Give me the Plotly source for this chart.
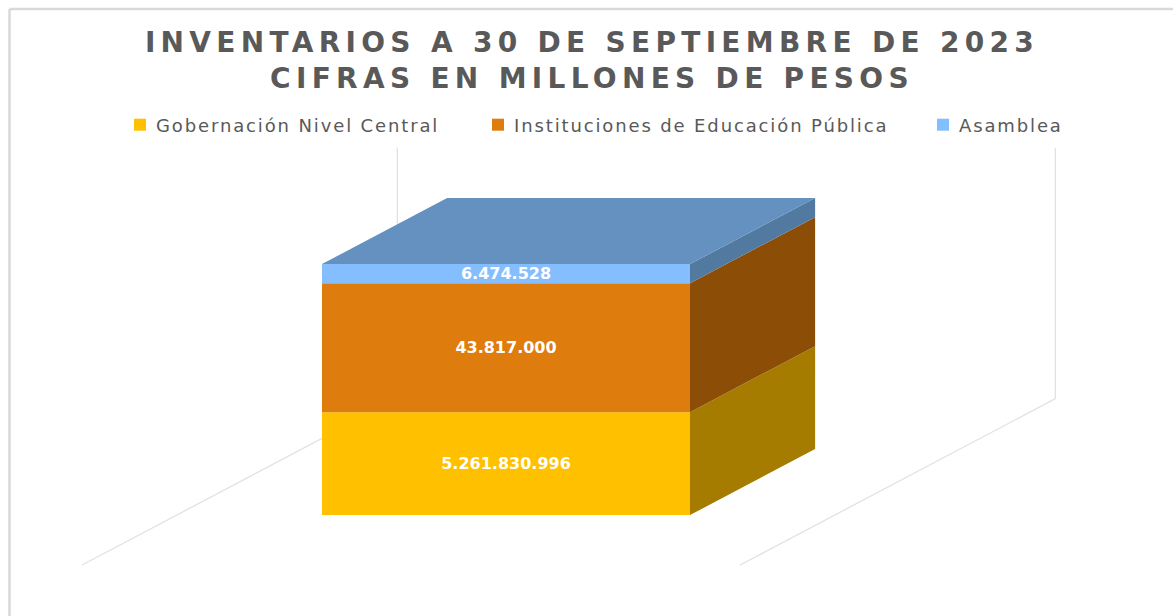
import plotly.graph_objects as go

series_names = ["Gobernación Nivel Central", "Instituciones de Educación Pública", "Asamblea"]
series_values = [5261830996, 43817000, 6474528]
# share of the stack height as drawn in the picture (the source stack is not to scale)
drawn_share = [41.0, 51.4, 7.6]
front_colors = ["#FFC000", "#DE7C0D", "#85BEFF"]
side_colors = ["#A67C00", "#8C4D06", "#527AA0"]
top_color = "#6491BF"
wall_color = "#E2E2E2"
title_lines = ["INVENTARIOS A 30 DE SEPTIEMBRE DE 2023", "CIFRAS EN MILLONES DE PESOS"]
legend_ids = ["legend", "legend2", "legend3"]
legend_left_px = [120, 478, 923]

W, H = 1173, 616
# axis scale
BAR_W = 1.0
X_RANGE = [-1.375, 1.8125]
Y_RANGE = [-40.2, 205.2]
DEPTH_X = 0.34
DEPTH_Y = 26.3
# floor/wall frame
FLOOR_Y = -19.9
FLOOR_LEFT = -1.152
FLOOR_RIGHT = 0.636
FLOOR_K = 2.52
WALL_TOP = 100

def label(v):
    return f"{v:,}".replace(",", ".")

fig = go.Figure()
base = 0
bx0, bx1 = -BAR_W / 2, BAR_W / 2
for name, value, share, fc, sc, lid in zip(series_names, series_values, drawn_share, front_colors, side_colors, legend_ids):
    fig.add_trace(go.Bar(
        x=[0], y=[share], base=[base], width=[BAR_W], name=name, legend=lid,
        marker=dict(color=fc, line=dict(width=0)),
        text=[label(value)], textposition="inside", insidetextanchor="middle",
        textangle=0, constraintext="none",
        textfont=dict(family="DejaVu Sans", size=16, color="white", weight="bold"),
        hovertemplate=name + ": " + label(value) + "<extra></extra>",
    ))
    top = base + share
    fig.add_trace(go.Scatter(
        x=[bx1, bx1 + DEPTH_X, bx1 + DEPTH_X, bx1, bx1],
        y=[base, base + DEPTH_Y, top + DEPTH_Y, top, base],
        mode="lines", fill="toself", fillcolor=sc, line=dict(width=0),
        showlegend=False, hoverinfo="skip",
    ))
    base = top

fig.add_trace(go.Scatter(
    x=[bx0, bx1, bx1 + DEPTH_X, bx0 + DEPTH_X, bx0],
    y=[base, base, base + DEPTH_Y, base + DEPTH_Y, base],
    mode="lines", fill="toself", fillcolor=top_color, line=dict(width=0),
    showlegend=False, hoverinfo="skip",
))

shapes = []
for fx in (FLOOR_LEFT, FLOOR_RIGHT):
    bx = fx + FLOOR_K * DEPTH_X
    by = FLOOR_Y + FLOOR_K * DEPTH_Y
    shapes.append(dict(type="line", layer="below", xref="x", yref="y", x0=fx, y0=FLOOR_Y, x1=bx, y1=by,
                       line=dict(color=wall_color, width=1.3)))
    shapes.append(dict(type="line", layer="below", xref="x", yref="y", x0=bx, y0=by, x1=bx, y1=by + WALL_TOP,
                       line=dict(color=wall_color, width=1.3)))
# chart frame
shapes.append(dict(type="line", layer="below", xref="paper", yref="paper", x0=9.5 / W, x1=9.5 / W, y0=0, y1=1 - 9 / H,
                   line=dict(color="#D9D9D9", width=2.5)))
shapes.append(dict(type="line", layer="below", xref="paper", yref="paper", x0=9.5 / W, x1=1, y0=1 - 9 / H, y1=1 - 9 / H,
                   line=dict(color="#D9D9D9", width=2.5)))

legend_font = dict(family="DejaVu Sans", size=18, color="#595959")
legend_layout = {
    lid: dict(orientation="h", x=px / W, xanchor="left", y=1 - 125 / H, yanchor="middle",
              font=legend_font, bgcolor="rgba(0,0,0,0)")
    for lid, px in zip(legend_ids, legend_left_px)
}

fig.update_layout(
    width=W, height=H, margin=dict(l=0, r=0, t=0, b=0),
    paper_bgcolor="white", plot_bgcolor="white",
    barmode="overlay", showlegend=True,
    shapes=shapes,
    title=dict(text="<br>".join(title_lines), x=592 / W, xanchor="center", y=1 - 52 / H, yanchor="top",
               font=dict(family="DejaVu Sans", size=28, color="#595959", weight="bold")),
    xaxis=dict(range=X_RANGE, visible=False, fixedrange=True),
    yaxis=dict(range=Y_RANGE, visible=False, fixedrange=True),
    **legend_layout,
)

# Persistent stylesheet so the spacing survives every legend redraw.
post = """
document.body.style.margin='0';
var s=document.createElement('style');
s.textContent='.gtitle{letter-spacing:5.3px !important}'
 +'.legendtext,.legend2text,.legend3text{letter-spacing:1.87px !important;transform:translateX(-4px)}'
 +'.scrollbox{clip-path:none !important}';
document.head.appendChild(s);
"""
fig.write_html("out.html", post_script=post, config=dict(displayModeBar=False))
